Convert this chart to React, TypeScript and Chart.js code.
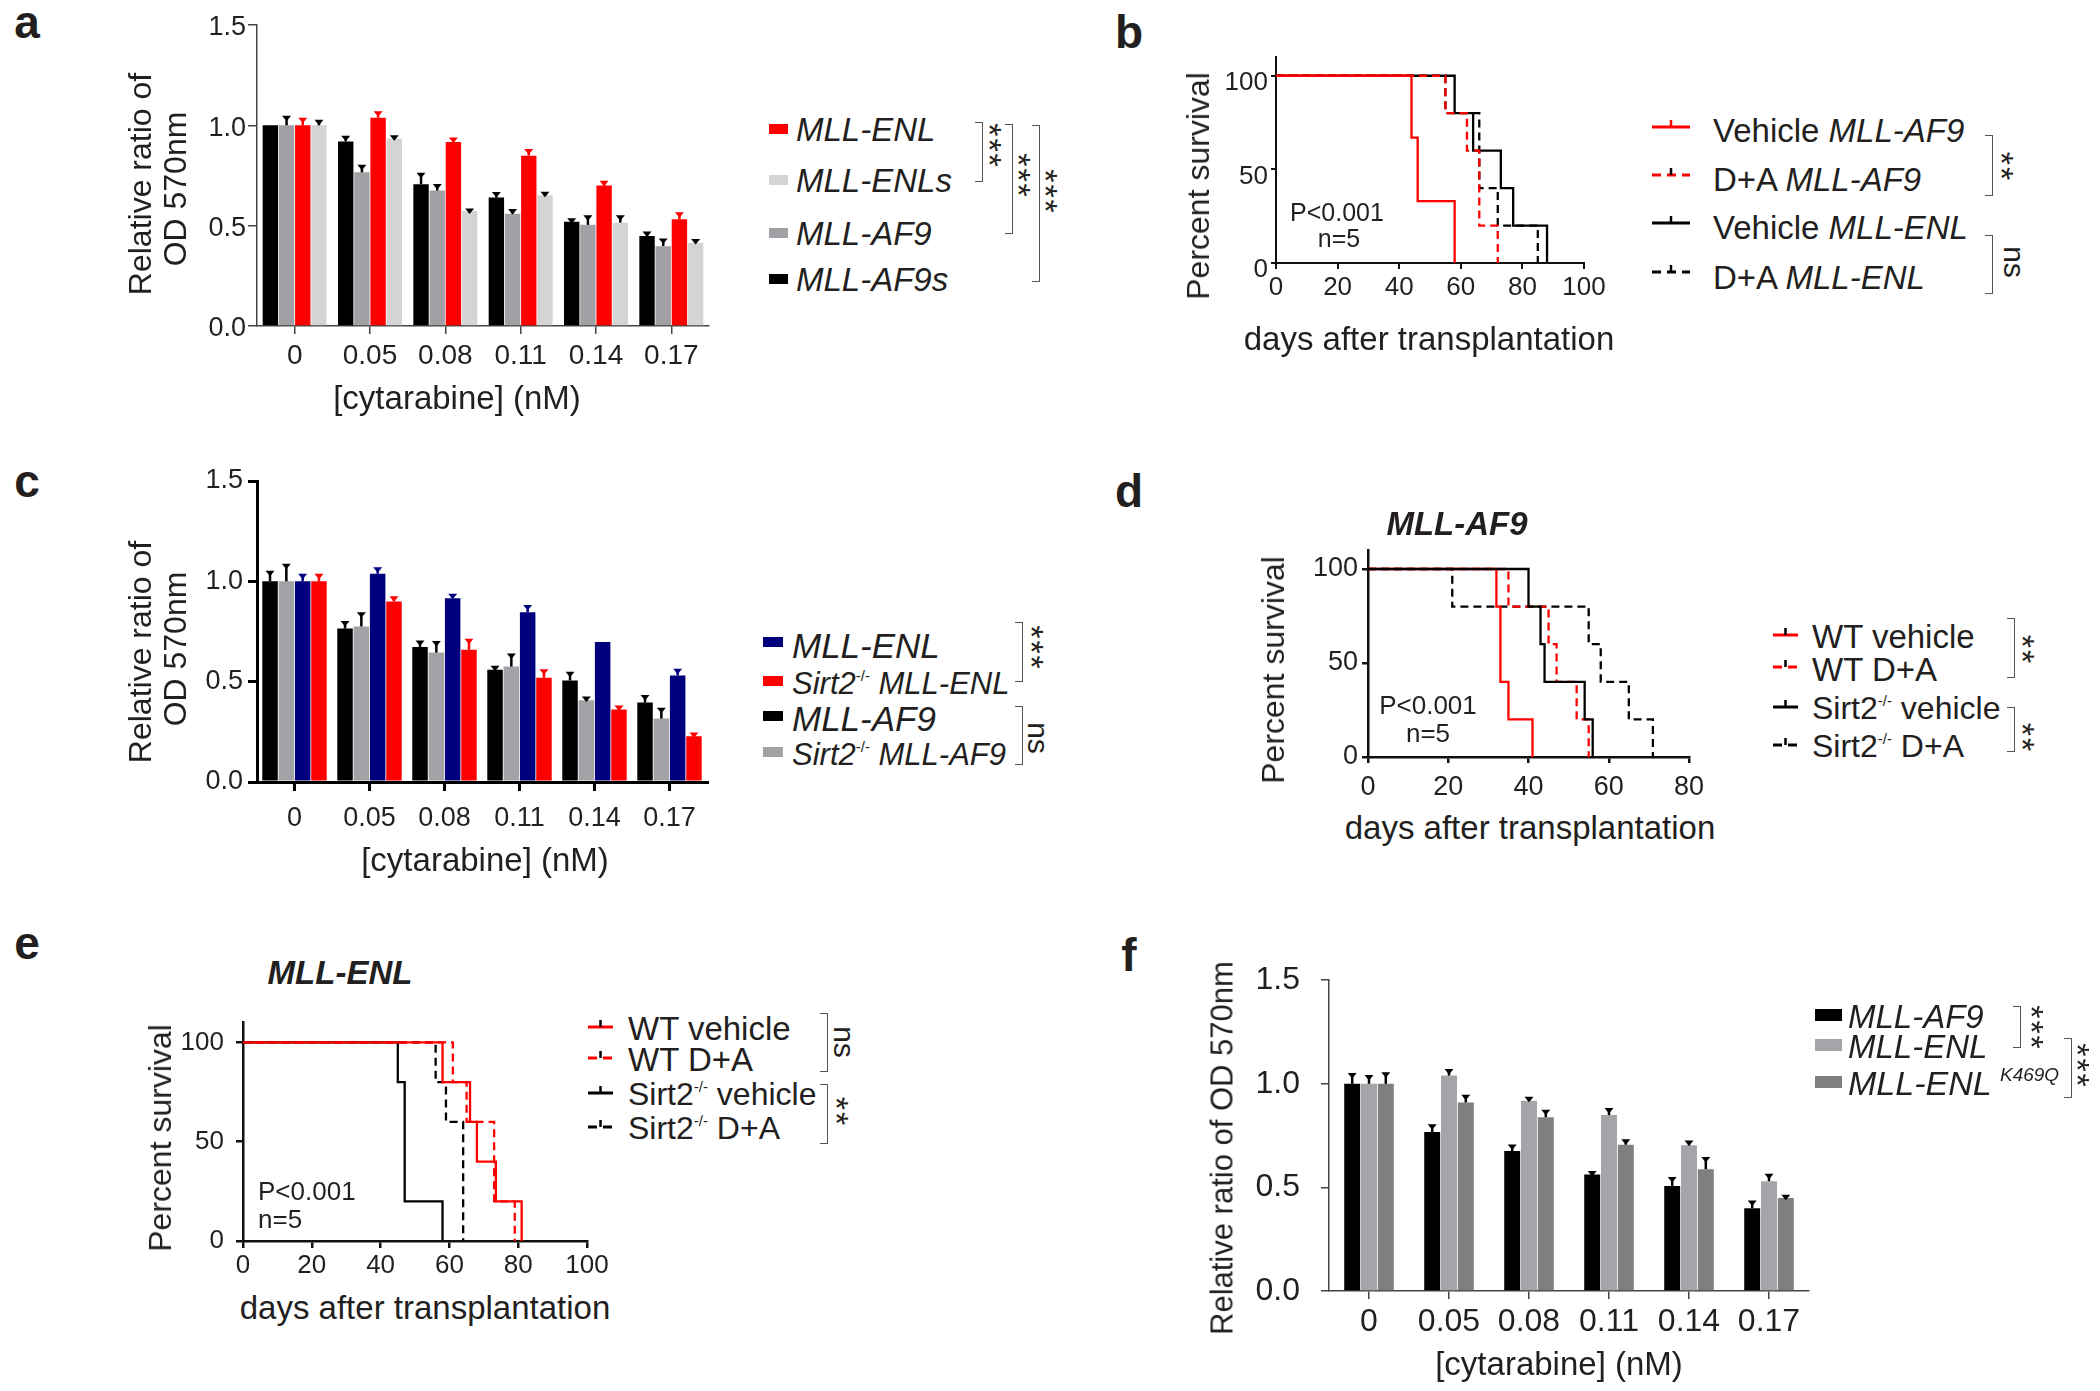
import React, { useEffect, useRef } from 'react';
import { Chart, registerables } from 'chart.js';

Chart.register(...registerables);

const FONT = "'Liberation Sans', Arial, Helvetica, sans-serif";
const INK = '#231f20';

// ---------- shared categories ----------
const doseLabels = ['0', '0.05', '0.08', '0.11', '0.14', '0.17'];
const barYTicks = [0, 0.5, 1.0, 1.5];

// ---------- panel a ----------
const aMllAf9s = [1.0, 0.92, 0.706, 0.64, 0.519, 0.448];
const aMllAf9sErr = [0.0, 0.02, 0.05, 0.02, 0.01, 0.016];
const aMllAf9 = [1.0, 0.766, 0.675, 0.56, 0.504, 0.398];
const aMllAf9Err = [0.04, 0.03, 0.025, 0.015, 0.04, 0.03];
const aMllEnl = [1.0, 1.038, 0.917, 0.849, 0.7, 0.532];
const aMllEnlErr = [0.03, 0.025, 0.015, 0.025, 0.016, 0.027];
const aMllEnls = [1.0, 0.933, 0.573, 0.651, 0.515, 0.414];
const aMllEnlsErr = [0.02, 0.01, 0.005, 0.01, 0.03, 0.012];

// ---------- panel c ----------
const cMllAf9 = [1.0, 0.765, 0.673, 0.559, 0.506, 0.396];
const cMllAf9Err = [0.045, 0.03, 0.025, 0.013, 0.036, 0.03];
const cSirtAf9 = [1.0, 0.775, 0.645, 0.575, 0.407, 0.316];
const cSirtAf9Err = [0.08, 0.063, 0.05, 0.058, 0.012, 0.047];
const cMllEnl = [1.0, 1.038, 0.916, 0.846, 0.698, 0.531];
const cMllEnlErr = [0.03, 0.025, 0.015, 0.028, 0.0, 0.026];
const cSirtEnl = [1.0, 0.9, 0.659, 0.519, 0.361, 0.228];
const cSirtEnlErr = [0.03, 0.018, 0.048, 0.036, 0.013, 0.011];

// ---------- panel f ----------
const fMllAf9 = [1.0, 0.767, 0.676, 0.562, 0.507, 0.399];
const fMllAf9Err = [0.045, 0.03, 0.024, 0.01, 0.036, 0.03];
const fMllEnl = [1.0, 1.04, 0.918, 0.849, 0.703, 0.53];
const fMllEnlErr = [0.035, 0.024, 0.012, 0.027, 0.016, 0.029];
const fK469Q = [1.0, 0.91, 0.839, 0.706, 0.588, 0.449];
const fK469QErr = [0.048, 0.03, 0.028, 0.019, 0.052, 0.008];

// ---------- panel b (Kaplan-Meier) ----------
const bVehAf9Days = [0, 44, 46, 58];
const bVehAf9Surv = [100, 67, 33, 0];
const bDaAf9Days = [0, 55, 62, 66, 72];
const bDaAf9Surv = [100, 80, 60, 20, 0];
const bVehEnlDays = [0, 58, 64, 73, 77, 88];
const bVehEnlSurv = [100, 80, 60, 40, 20, 0];
const bDaEnlDays = [0, 55, 66, 72, 85];
const bDaEnlSurv = [100, 80, 40, 20, 0];

// ---------- panel d ----------
const dWtVehDays = [0, 32, 33, 35, 41];
const dWtVehSurv = [100, 80, 40, 20, 0];
const dWtDaDays = [0, 35, 45, 47, 52, 55];
const dWtDaSurv = [100, 80, 60, 40, 20, 0];
const dKoVehDays = [0, 40, 43, 44, 54, 56];
const dKoVehSurv = [100, 80, 60, 40, 20, 0];
const dKoDaDays = [0, 21, 55, 58, 65, 71];
const dKoDaSurv = [100, 80, 60, 40, 20, 0];

// ---------- panel e ----------
const eWtVehDays = [0, 58, 66, 68, 73.5, 81];
const eWtVehSurv = [100, 80, 60, 40, 20, 0];
const eWtDaDays = [0, 61, 65, 73, 79];
const eWtDaSurv = [100, 80, 60, 20, 0];
const eKoVehDays = [0, 45, 47, 58];
const eKoVehSurv = [100, 80, 20, 0];
const eKoDaDays = [0, 56, 59, 64];
const eKoDaSurv = [100, 80, 60, 0];

const survTicks = [0, 50, 100];

// ---------- plugins ----------
const errorBarPlugin = {
  id: 'errorBars',
  afterDatasetsDraw(chart: any) {
    const ctx = chart.ctx;
    const yScale = chart.scales.y;
    chart.data.datasets.forEach((ds: any, i: number) => {
      const meta = chart.getDatasetMeta(i);
      meta.data.forEach((bar: any, j: number) => {
        const e = ds.errors ? ds.errors[j] : 0;
        if (!e) return;
        const yTop = yScale.getPixelForValue(ds.data[j] + e);
        ctx.save();
        ctx.strokeStyle = ds.errColor;
        ctx.fillStyle = ds.errColor;
        ctx.lineWidth = 2.5;
        ctx.beginPath();
        ctx.moveTo(bar.x, bar.y);
        ctx.lineTo(bar.x, yTop);
        ctx.stroke();
        ctx.beginPath();
        ctx.moveTo(bar.x - 4.5, yTop - 1.5);
        ctx.lineTo(bar.x + 4.5, yTop - 1.5);
        ctx.lineTo(bar.x, yTop + 4);
        ctx.closePath();
        ctx.fill();
        ctx.restore();
      });
    });
  },
};

type Geom = {
  box: { left: number; top: number; width: number; height: number };
  area: { left: number; right: number; top: number; bottom: number };
};

type BarSeries = { label: string; data: number[]; err: number[]; color: string; errColor: string };

function barConfig(series: BarSeries[], g: Geom, o: any) {
  const { box, area } = g;
  return {
    type: 'bar',
    data: {
      labels: doseLabels,
      datasets: series.map((s) => ({
        label: s.label,
        data: s.data,
        errors: s.err,
        errColor: s.errColor,
        backgroundColor: s.color,
        borderWidth: 0,
        barPercentage: 0.95,
        categoryPercentage: o.catPct,
      })),
    },
    options: {
      animation: false,
      responsive: false,
      devicePixelRatio: 1,
      layout: { padding: { left: 0, top: area.top - box.top, right: box.left + box.width - area.right, bottom: 0 } },
      plugins: { legend: { display: false }, tooltip: { enabled: false }, title: { display: false } },
      scales: {
        x: {
          type: 'category',
          offset: true,
          grid: { offset: false, drawOnChartArea: false, drawTicks: true, tickLength: o.xTickLen, color: o.axisColor, lineWidth: o.axisWidth },
          border: { display: true, color: o.axisColor, width: o.axisWidth },
          ticks: { font: { family: FONT, size: o.xTickSize }, color: INK, padding: o.xTickPad, maxRotation: 0, autoSkip: false },
          afterFit: (s: any) => {
            s.height = box.top + box.height - area.bottom;
          },
        },
        y: {
          min: 0,
          max: 1.5,
          afterBuildTicks: (s: any) => {
            s.ticks = barYTicks.map((v) => ({ value: v }));
          },
          ticks: {
            callback: (v: any) => Number(v).toFixed(1),
            font: { family: FONT, size: o.yTickSize },
            color: INK,
            padding: o.yTickPad,
            labelOffset: o.yLabelOffset || 0,
          },
          grid: { drawOnChartArea: false, drawTicks: true, tickLength: o.yTickLen, color: o.axisColor, lineWidth: o.axisWidth },
          border: { display: true, color: o.axisColor, width: o.axisWidth },
          afterFit: (s: any) => {
            s.width = area.left - box.left;
          },
        },
      },
    },
    plugins: [errorBarPlugin],
  };
}

type Curve = { label: string; days: number[]; surv: number[]; color: string; dashed: boolean };

function survConfig(curves: Curve[], g: Geom, o: any) {
  const { box, area } = g;
  return {
    type: 'line',
    data: {
      datasets: curves.map((c) => ({
        label: c.label,
        data: c.days.map((d, i) => ({ x: d, y: c.surv[i] })),
        borderColor: c.color,
        borderWidth: 2.3,
        borderDash: c.dashed ? [8, 5] : [],
        stepped: 'before',
        pointRadius: 0,
        fill: false,
        tension: 0,
      })),
    },
    options: {
      animation: false,
      responsive: false,
      devicePixelRatio: 1,
      layout: { padding: { left: 0, top: area.top - box.top, right: box.left + box.width - area.right, bottom: 0 } },
      plugins: { legend: { display: false }, tooltip: { enabled: false }, title: { display: false } },
      scales: {
        x: {
          type: 'linear',
          min: 0,
          max: o.xMax,
          ticks: { stepSize: 20, font: { family: FONT, size: o.tickSize }, color: INK, padding: o.xTickPad, maxRotation: 0 },
          grid: { drawOnChartArea: false, drawTicks: true, tickLength: o.xTickLen, color: '#111', lineWidth: o.axisWidth },
          border: { display: true, color: '#111', width: o.axisWidth },
          afterFit: (s: any) => {
            s.height = box.top + box.height - area.bottom;
          },
        },
        y: {
          min: 0,
          max: 110,
          afterBuildTicks: (s: any) => {
            s.ticks = survTicks.map((v) => ({ value: v }));
          },
          ticks: { font: { family: FONT, size: o.tickSize }, color: INK, padding: o.yTickPad, labelOffset: o.yLabelOffset || 0 },
          grid: { drawOnChartArea: false, drawTicks: true, tickLength: o.yTickLen, color: '#111', lineWidth: o.axisWidth },
          border: { display: true, color: '#111', width: o.axisWidth },
          afterFit: (s: any) => {
            s.width = area.left - box.left;
          },
        },
      },
    },
  };
}

function ChartBox({ geom, config }: { geom: Geom; config: any }) {
  const ref = useRef<HTMLCanvasElement>(null);
  useEffect(() => {
    const chart = new Chart(ref.current as HTMLCanvasElement, config);
    return () => chart.destroy();
  }, []);
  const { box } = geom;
  return (
    <canvas
      ref={ref}
      width={box.width}
      height={box.height}
      style={{ position: 'absolute', left: box.left, top: box.top, width: box.width, height: box.height }}
    />
  );
}

// ---------- HTML helpers ----------
function Txt(p: {
  x: number;
  y: number;
  size: number;
  children: any;
  bold?: boolean;
  italic?: boolean;
  rot?: number;
  start?: boolean;
  color?: string;
  spacing?: number;
}) {
  const tr = `translate(${p.start ? '0' : '-50%'}, -50%)${p.rot ? ` rotate(${p.rot}deg)` : ''}`;
  return (
    <div
      style={{
        position: 'absolute',
        left: p.x,
        top: p.y,
        transform: tr,
        fontSize: p.size,
        fontFamily: FONT,
        fontWeight: p.bold ? 700 : 400,
        fontStyle: p.italic ? 'italic' : 'normal',
        whiteSpace: 'nowrap',
        lineHeight: 1,
        color: p.color || INK,
        letterSpacing: p.spacing || 0,
      }}
    >
      {p.children}
    </div>
  );
}

function Sup({ children, size = 15, top = -13 }: any) {
  return <span style={{ fontSize: size, position: 'relative', top, fontStyle: 'normal' }}>{children}</span>;
}

function Swatch({ x, y, w, h, color }: any) {
  return <div style={{ position: 'absolute', left: x, top: y - h / 2, width: w, height: h, background: color }} />;
}

function LineSym({ x, y, w, color, dashed, tickColor }: any) {
  return (
    <svg style={{ position: 'absolute', left: x, top: y - 10 }} width={w} height={14}>
      <line x1={0} y1={10} x2={w} y2={10} stroke={color} strokeWidth={3} strokeDasharray={dashed ? '9 6' : undefined} />
      <line x1={w / 2} y1={10} x2={w / 2} y2={3} stroke={tickColor || color} strokeWidth={2.5} />
    </svg>
  );
}

function Bracket({ x, y1, y2, tick = 8 }: any) {
  return (
    <div
      style={{
        position: 'absolute',
        left: x - tick,
        top: y1,
        width: tick,
        height: y2 - y1,
        borderTop: '1.5px solid #555',
        borderBottom: '1.5px solid #555',
        borderRight: '1.5px solid #555',
        boxSizing: 'border-box',
      }}
    />
  );
}

function Stars({ x, y, n, size = 34 }: any) {
  return (
    <Txt x={x - 7} y={y} size={size} rot={90} spacing={2}>
      {'*'.repeat(n)}
    </Txt>
  );
}

function NS({ x, y, size = 30 }: any) {
  return (
    <Txt x={x} y={y} size={size} rot={90}>
      ns
    </Txt>
  );
}

// ---------- geometry ----------
const geomA: Geom = { box: { left: 90, top: 0, width: 640, height: 420 }, area: { left: 257, right: 709, top: 25, bottom: 326 } };
const geomC: Geom = { box: { left: 90, top: 455, width: 640, height: 430 }, area: { left: 257, right: 707, top: 481, bottom: 782 } };
const geomF: Geom = { box: { left: 1150, top: 940, width: 700, height: 451 }, area: { left: 1329, right: 1809, top: 972, bottom: 1291 } };
const geomB: Geom = { box: { left: 1160, top: 30, width: 470, height: 300 }, area: { left: 1276, right: 1584, top: 57, bottom: 263 } };
const geomD: Geom = { box: { left: 1240, top: 530, width: 480, height: 270 }, area: { left: 1368, right: 1689, top: 543, bottom: 757 } };
const geomE: Geom = { box: { left: 150, top: 995, width: 470, height: 290 }, area: { left: 243, right: 587, top: 1012, bottom: 1241 } };

const RED = '#ff0000';
const NAVY = '#00007f';

const configA = barConfig(
  [
    { label: 'MLL-AF9s', data: aMllAf9s, err: aMllAf9sErr, color: '#000000', errColor: '#000000' },
    { label: 'MLL-AF9', data: aMllAf9, err: aMllAf9Err, color: '#a0a0a5', errColor: '#000000' },
    { label: 'MLL-ENL', data: aMllEnl, err: aMllEnlErr, color: RED, errColor: RED },
    { label: 'MLL-ENLs', data: aMllEnls, err: aMllEnlsErr, color: '#d4d4d4', errColor: '#000000' },
  ],
  geomA,
  { catPct: 0.86, xTickLen: 8, xTickPad: 5, xTickSize: 28, yTickLen: 9, yTickPad: 2, yTickSize: 27, yLabelOffset: 3, axisColor: '#444', axisWidth: 1.5 }
);

const configC = barConfig(
  [
    { label: 'MLL-AF9', data: cMllAf9, err: cMllAf9Err, color: '#000000', errColor: '#000000' },
    { label: 'Sirt2-/- MLL-AF9', data: cSirtAf9, err: cSirtAf9Err, color: '#a3a3a7', errColor: '#000000' },
    { label: 'MLL-ENL', data: cMllEnl, err: cMllEnlErr, color: NAVY, errColor: NAVY },
    { label: 'Sirt2-/- MLL-ENL', data: cSirtEnl, err: cSirtEnlErr, color: RED, errColor: RED },
  ],
  geomC,
  { catPct: 0.87, xTickLen: 9, xTickPad: 11, xTickSize: 27, yTickLen: 9, yTickPad: 5, yTickSize: 27, axisColor: '#000', axisWidth: 3 }
);

const configF = barConfig(
  [
    { label: 'MLL-AF9', data: fMllAf9, err: fMllAf9Err, color: '#000000', errColor: '#000000' },
    { label: 'MLL-ENL', data: fMllEnl, err: fMllEnlErr, color: '#a5a5a9', errColor: '#000000' },
    { label: 'MLL-ENL K469Q', data: fK469Q, err: fK469QErr, color: '#7f7f7f', errColor: '#000000' },
  ],
  geomF,
  { catPct: 0.63, xTickLen: 8, xTickPad: 4, xTickSize: 32, yTickLen: 8, yTickPad: 21, yTickSize: 32, axisColor: '#444', axisWidth: 1.5 }
);

const configB = survConfig(
  [
    { label: 'Vehicle MLL-AF9', days: bVehAf9Days, surv: bVehAf9Surv, color: RED, dashed: false },
    { label: 'D+A MLL-AF9', days: bDaAf9Days, surv: bDaAf9Surv, color: RED, dashed: true },
    { label: 'D+A MLL-ENL', days: bDaEnlDays, surv: bDaEnlSurv, color: '#000', dashed: true },
    { label: 'Vehicle MLL-ENL', days: bVehEnlDays, surv: bVehEnlSurv, color: '#000', dashed: false },
  ],
  geomB,
  { xMax: 100, tickSize: 26, xTickLen: 6, xTickPad: 3, yTickLen: 5, yTickPad: 3, yLabelOffset: 7, axisWidth: 2 }
);

const configD = survConfig(
  [
    { label: 'Sirt2-/- vehicle', days: dKoVehDays, surv: dKoVehSurv, color: '#000', dashed: false },
    { label: 'WT vehicle', days: dWtVehDays, surv: dWtVehSurv, color: RED, dashed: false },
    { label: 'WT D+A', days: dWtDaDays, surv: dWtDaSurv, color: RED, dashed: true },
    { label: 'Sirt2-/- D+A', days: dKoDaDays, surv: dKoDaSurv, color: '#000', dashed: true },
  ],
  geomD,
  { xMax: 80, tickSize: 27, xTickLen: 6, xTickPad: 8, yTickLen: 6, yTickPad: 4, axisWidth: 2.5 }
);

const configE = survConfig(
  [
    { label: 'WT vehicle', days: eWtVehDays, surv: eWtVehSurv, color: RED, dashed: false },
    { label: 'WT D+A', days: eWtDaDays, surv: eWtDaSurv, color: RED, dashed: true },
    { label: 'Sirt2-/- D+A', days: eKoDaDays, surv: eKoDaSurv, color: '#000', dashed: true },
    { label: 'Sirt2-/- vehicle', days: eKoVehDays, surv: eKoVehSurv, color: '#000', dashed: false },
  ],
  geomE,
  { xMax: 100, tickSize: 26, xTickLen: 7, xTickPad: 2, yTickLen: 7, yTickPad: 12, axisWidth: 2.5 }
);

export default function App() {
  return (
    <div style={{ position: 'absolute', left: 0, top: 0, width: 2100, height: 1391, background: '#fff', overflow: 'hidden' }}>
      <ChartBox geom={geomA} config={configA} />
      <ChartBox geom={geomB} config={configB} />
      <ChartBox geom={geomC} config={configC} />
      <ChartBox geom={geomD} config={configD} />
      <ChartBox geom={geomE} config={configE} />
      <ChartBox geom={geomF} config={configF} />

      {/* panel letters */}
      <Txt x={27} y={22} size={46} bold>a</Txt>
      <Txt x={1129} y={32} size={46} bold>b</Txt>
      <Txt x={27} y={481} size={46} bold>c</Txt>
      <Txt x={1129} y={491} size={46} bold>d</Txt>
      <Txt x={27} y={943} size={46} bold>e</Txt>
      <Txt x={1129} y={955} size={46} bold>f</Txt>

      {/* ---- panel a ---- */}
      <Txt x={140} y={184} size={32} rot={-90}>Relative ratio of</Txt>
      <Txt x={175} y={189} size={32} rot={-90}>OD 570nm</Txt>
      <Txt x={457} y={397} size={33}>[cytarabine] (nM)</Txt>
      <Swatch x={769} y={129} w={19} h={10} color={RED} />
      <Swatch x={769} y={180} w={19} h={10} color="#d4d4d4" />
      <Swatch x={769} y={233} w={19} h={10} color="#a0a0a5" />
      <Swatch x={769} y={279} w={19} h={10} color="#000" />
      <Txt x={796} y={129} size={33} italic start>MLL-ENL</Txt>
      <Txt x={796} y={180} size={33} italic start>MLL-ENLs</Txt>
      <Txt x={796} y={233} size={33} italic start>MLL-AF9</Txt>
      <Txt x={796} y={279} size={33} italic start>MLL-AF9s</Txt>
      <Bracket x={983} y1={122} y2={182} />
      <Stars x={997} y={146} n={3} />
      <Bracket x={1013} y1={124} y2={234} />
      <Stars x={1026} y={176} n={3} />
      <Bracket x={1040} y1={125} y2={282} />
      <Stars x={1053} y={192} n={3} />

      {/* ---- panel b ---- */}
      <Txt x={1198} y={186} size={32} rot={-90}>Percent survival</Txt>
      <Txt x={1429} y={338} size={33}>days after transplantation</Txt>
      <Txt x={1337} y={212} size={25}>P&lt;0.001</Txt>
      <Txt x={1339} y={238} size={25}>n=5</Txt>
      <LineSym x={1652} y={127} w={38} color={RED} />
      <LineSym x={1652} y={175} w={38} color={RED} dashed tickColor="#000" />
      <LineSym x={1652} y={223} w={38} color="#000" />
      <LineSym x={1652} y={272} w={38} color="#000" dashed />
      <Txt x={1713} y={130} size={33} start>Vehicle <i>MLL-AF9</i></Txt>
      <Txt x={1713} y={179} size={33} start>D+A <i>MLL-AF9</i></Txt>
      <Txt x={1713} y={227} size={33} start>Vehicle <i>MLL-ENL</i></Txt>
      <Txt x={1713} y={277} size={33} start>D+A <i>MLL-ENL</i></Txt>
      <Bracket x={1993} y1={135} y2={196} />
      <Stars x={2009} y={167} n={2} />
      <Bracket x={1993} y1={235} y2={294} />
      <NS x={2014} y={262} />

      {/* ---- panel c ---- */}
      <Txt x={140} y={652} size={32} rot={-90}>Relative ratio of</Txt>
      <Txt x={175} y={649} size={32} rot={-90}>OD 570nm</Txt>
      <Txt x={485} y={859} size={33}>[cytarabine] (nM)</Txt>
      <Swatch x={763} y={642} w={20} h={10} color={NAVY} />
      <Swatch x={763} y={681} w={20} h={10} color={RED} />
      <Swatch x={763} y={716} w={20} h={10} color="#000" />
      <Swatch x={763} y={752} w={20} h={10} color="#a3a3a7" />
      <Txt x={792} y={645} size={35} italic start>MLL-ENL</Txt>
      <Txt x={792} y={683} size={31} italic start>Sirt2<Sup>-/-</Sup> MLL-ENL</Txt>
      <Txt x={792} y={718} size={35} italic start>MLL-AF9</Txt>
      <Txt x={792} y={754} size={31} italic start>Sirt2<Sup>-/-</Sup> MLL-AF9</Txt>
      <Bracket x={1023} y1={622} y2={682} />
      <Stars x={1039} y={648} n={3} />
      <Bracket x={1023} y1={706} y2={765} />
      <NS x={1038} y={738} />

      {/* ---- panel d ---- */}
      <Txt x={1457} y={523} size={33} bold italic>MLL-AF9</Txt>
      <Txt x={1273} y={670} size={32} rot={-90}>Percent survival</Txt>
      <Txt x={1530} y={827} size={33}>days after transplantation</Txt>
      <Txt x={1428} y={705} size={26}>P&lt;0.001</Txt>
      <Txt x={1428} y={733} size={26}>n=5</Txt>
      <LineSym x={1773} y={635} w={25} color={RED} tickColor="#000" />
      <LineSym x={1773} y={667} w={25} color={RED} dashed tickColor="#000" />
      <LineSym x={1773} y={707} w={25} color="#000" />
      <LineSym x={1773} y={745} w={25} color="#000" dashed />
      <Txt x={1812} y={636} size={33} start>WT vehicle</Txt>
      <Txt x={1812} y={669} size={33} start>WT D+A</Txt>
      <Txt x={1812} y={708} size={32} start>Sirt2<Sup>-/-</Sup> vehicle</Txt>
      <Txt x={1812} y={746} size={32} start>Sirt2<Sup>-/-</Sup> D+A</Txt>
      <Bracket x={2015} y1={618} y2={678} />
      <Stars x={2030} y={650} n={2} />
      <Bracket x={2015} y1={707} y2={752} />
      <Stars x={2030} y={738} n={2} />

      {/* ---- panel e ---- */}
      <Txt x={340} y={972} size={33} bold italic>MLL-ENL</Txt>
      <Txt x={160} y={1138} size={32} rot={-90}>Percent survival</Txt>
      <Txt x={425} y={1307} size={33}>days after transplantation</Txt>
      <Txt x={258} y={1191} size={26} start>P&lt;0.001</Txt>
      <Txt x={258} y={1219} size={26} start>n=5</Txt>
      <LineSym x={588} y={1027} w={25} color={RED} tickColor="#000" />
      <LineSym x={588} y={1058} w={25} color={RED} dashed tickColor="#000" />
      <LineSym x={588} y={1093} w={25} color="#000" />
      <LineSym x={588} y={1127} w={25} color="#000" dashed />
      <Txt x={628} y={1028} size={33} start>WT vehicle</Txt>
      <Txt x={628} y={1059} size={33} start>WT D+A</Txt>
      <Txt x={628} y={1094} size={32} start>Sirt2<Sup>-/-</Sup> vehicle</Txt>
      <Txt x={628} y={1128} size={32} start>Sirt2<Sup>-/-</Sup> D+A</Txt>
      <Bracket x={828} y1={1013} y2={1072} />
      <NS x={844} y={1042} />
      <Bracket x={828} y1={1084} y2={1144} />
      <Stars x={844} y={1112} n={2} />

      {/* ---- panel f ---- */}
      <Txt x={1222} y={1148} size={31} rot={-90}>Relative ratio of OD 570nm</Txt>
      <Txt x={1559} y={1363} size={33}>[cytarabine] (nM)</Txt>
      <Swatch x={1815} y={1015} w={27} h={12} color="#000" />
      <Swatch x={1815} y={1045} w={27} h={12} color="#a5a5a9" />
      <Swatch x={1815} y={1082} w={27} h={12} color="#7f7f7f" />
      <Txt x={1848} y={1016} size={33} italic start>MLL-AF9</Txt>
      <Txt x={1848} y={1046} size={33} italic start>MLL-ENL</Txt>
      <Txt x={1848} y={1083} size={34} italic start>MLL-ENL</Txt>
      <Txt x={2000} y={1074} size={19} italic start>K469Q</Txt>
      <Bracket x={2021} y1={1006} y2={1048} />
      <Stars x={2039} y={1028} n={3} />
      <Bracket x={2072} y1={1038} y2={1098} />
      <Stars x={2085} y={1066} n={3} />
    </div>
  );
}
